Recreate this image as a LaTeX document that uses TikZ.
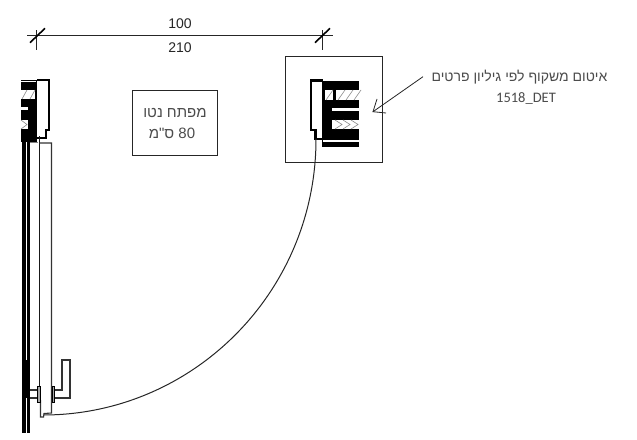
\documentclass[tikz,border=0pt]{standalone}
\usepackage{fontspec}
\setmainfont{Liberation Sans}
\newfontfamily\hebfont[Script=Hebrew]{Liberation Sans}
\newfontfamily\codefont{Carlito}
\TeXXeTstate=1
\tikzset{
  thin line/.style={draw=black!85,line width=0.8pt},
  wall line/.style={draw=black,line width=3.8pt},
  frame line/.style={draw=black,line width=2.6pt,line join=miter},
  leaf line/.style={draw=black!80,line width=1.1pt},
  hatch mark/.style={draw=black!45,line width=0.6pt},
  dim label/.style={font=\fontsize{14}{16}\selectfont,text=black!85,inner sep=0pt},
  heb label/.style={font=\hebfont\fontsize{14}{16}\selectfont,text=black!70,inner sep=0pt},
  note label/.style={font=\hebfont\fontsize{15}{17}\selectfont,text=black!70,inner sep=0pt},
  code label/.style={font=\codefont\fontsize{14.5}{16}\selectfont,text=black!70,inner sep=0pt},
  tick mark/.style={draw=black,line width=1.6pt}
}
\begin{document}
\begin{tikzpicture}[x=1pt,y=-1pt]
\useasboundingbox (0,0) rectangle (637,439);
\fill[white] (0,0) rectangle (637,439);
% dimension
\coordinate (dL) at (27,35.7); \coordinate (dR) at (333,35.7);
\draw[thin line] (dL) -- (dR);
\draw[thin line,line width=.6pt] (36.7,30) -- (36.7,50) (322.3,30) -- (322.3,50);
\draw[tick mark] (30,42.7) -- (45,28.3) (315,42.7) -- (330,28.3);
\node[dim label] (t100) at (180,24) {100};
\node[dim label] (t210) at (180,48) {210};
% note box
\node[draw=black!85,line width=.7pt,minimum width=85.5pt,minimum height=65pt,inner sep=0pt] (box) at (174.8,122.5) {};
\node[note label] (n1) at (175,113) {\beginR מפתח נטו\endR};
\node[note label] (n2) at (172,133) {\beginR 80 ס"מ\endR};
% detail box
\node[draw=black!85,line width=.7pt,minimum width=96.5pt,minimum height=106pt,inner sep=0pt] (detail) at (334,109) {};
% right frame
\fill[black] (322,80.5) rectangle (359,147);
\fill[white] (325,90) rectangle (333,100);
\fill[white] (336,90) rectangle (359,100);
\fill[white] (332,107.5) rectangle (359,110.5);
\fill[white] (332,120) rectangle (359,129);
\fill[white] (323,139.5) rectangle (359,142);
\foreach \x in {326,338,346,354}{\draw[hatch mark] (\x,100) -- (\x+7,90);}
\foreach \x in {335,343,351}{\draw[hatch mark] (\x,120) -- (\x+7,124.5) -- (\x,129);}
\draw[frame line] (323,80.5) -- (311,80.5) -- (311,130) -- (315.5,130) -- (315.5,139) -- (323,139);
% door swing
\draw[thin line,line width=1pt] (316,139) .. controls (316,292) and (193,415) .. (43,415);
% left frame
\fill[black] (21,80) rectangle (37,142);
\fill[white] (21,90) rectangle (35,99);
\fill[white] (21,107) rectangle (28,110);
\fill[white] (21,120) rectangle (28,129);
\fill[white] (21,81) rectangle (36,82);
\foreach \x in {22,30}{\draw[hatch mark] (\x,99) -- (\x+5,90);}
\foreach \x in {21}{\draw[hatch mark] (\x,120) -- (\x+6,124.5) -- (\x,129);}
\draw[frame line] (37,80) -- (49,80) -- (49,130) -- (46,130) -- (46,138) -- (37,138);
% wall
\draw[wall line] (23.6,140) -- (23.6,433);
\draw[wall line,line width=3.4pt] (28.3,140) -- (28.3,433);
\fill[black] (21.7,360) rectangle (30,398);
\draw[leaf line,line width=.6pt,draw=black!50] (30,142.5) -- (38,142.5);
% door leaf
\draw[leaf line,line width=1.6pt,draw=black!90] (39.5,136) -- (39.5,387);
\draw[leaf line] (39.5,143) -- (51.5,143) -- (51.5,413) -- (44,413.5) -- (43.6,417) -- (40.5,417) -- (40.5,400);
% handle
\draw[leaf line] (30,390) -- (38,390) (30,398) -- (38,398);
\draw[leaf line] (53,390) -- (62,390) -- (62,360) -- (70,360) -- (70,398) -- (53,398);
\draw[draw=black,line width=.8pt,fill=black!35] (37.5,386.5) rectangle (40.5,402);
\draw[draw=black,line width=.8pt,fill=black!35] (52,386.5) rectangle (54,402);
% leader
\coordinate (ls) at (423,76.7); \coordinate (le) at (373,111.7);
\draw[thin line] (ls) -- (le);
\draw[thin line] (377,99) -- (le) -- (386,113);
\node[heb label] (a1) at (519.5,77) {\beginR איטום משקוף לפי גיליון פרטים\endR};
\node[code label] (a2) at (526,99) {1518\_DET};
\end{tikzpicture}
\end{document}
